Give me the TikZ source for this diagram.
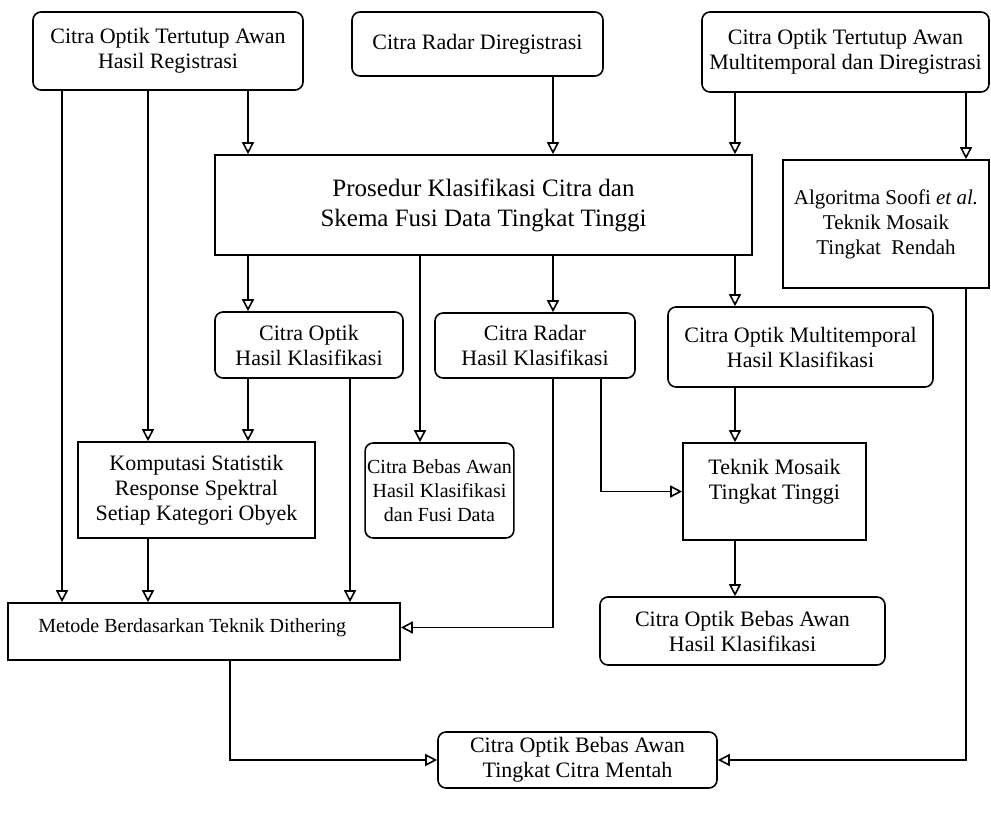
\documentclass[tikz,border=0pt]{standalone}
\usepackage{fontspec}
\setmainfont{Liberation Serif}
\usepackage{tikz}
\usetikzlibrary{shapes,arrows.meta,positioning,calc}

\begin{document}
\begin{tikzpicture}[
    x=0.5pt, y=-0.5pt,
    roundbox/.style={
        rectangle,
        draw,
        rounded corners=4pt,
        align=center,
        line width=0.8pt,
        inner sep=1pt,
        font=\fontsize{11}{12.5}\selectfont
    },
    sharpbox/.style={
        roundbox,
        sharp corners
    },
    line/.style={
        draw,
        line width=0.8pt,
        -{Triangle[open,length=6pt,width=6pt]}
    }
]
\useasboundingbox (0,0) rectangle (991,823);

% Nodes
\node [roundbox, minimum width=135pt, minimum height=39pt] (regopt) at (168,51) {Citra Optik Tertutup Awan\\Hasil Registrasi};
\node [roundbox, minimum width=125.5pt, minimum height=32pt] (radar) at (477.5,44) {Citra Radar Diregistrasi};
\node [roundbox, minimum width=143.5pt, minimum height=40pt] (multi) at (845.5,52) {Citra Optik Tertutup Awan\\Multitemporal dan Diregistrasi};

\node [sharpbox, minimum width=268.5pt, minimum height=50pt, font=\fontsize{12.5}{15}\selectfont] (proc) at (483.5,205) {Prosedur Klasifikasi Citra dan\\Skema Fusi Data Tingkat Tinggi};
\node [sharpbox, minimum width=103pt, minimum height=64pt, font=\fontsize{10.5}{12.5}\selectfont] (soofi) at (886,224) {Algoritma Soofi \textit{et al.}\\Teknik Mosaik\\Tingkat\ \ Rendah};

\node [roundbox, minimum width=94pt, minimum height=33pt] (optcls) at (309,345) {Citra Optik\\Hasil Klasifikasi};
\node [roundbox, minimum width=100pt, minimum height=32.5pt] (radcls) at (535,345.5) {Citra Radar\\Hasil Klasifikasi};
\node [roundbox, minimum width=132.5pt, minimum height=40pt] (multcls) at (800.5,347) {Citra Optik Multitemporal\\Hasil Klasifikasi};

\node [sharpbox, minimum width=118.5pt, minimum height=48pt] (stat) at (196.5,490) {Komputasi Statistik\\Response Spektral\\Setiap Kategori Obyek};
\node [roundbox, minimum width=72.5pt, minimum height=47.5pt, font=\fontsize{10}{12}\selectfont] (fusi) at (439.5,490.5) {Citra Bebas Awan\\Hasil Klasifikasi\\dan Fusi Data};
\node [sharpbox, minimum width=91.5pt, minimum height=48.5pt,
    label={[anchor=north, yshift=-5pt, align=center, font=\fontsize{11}{12.5}\selectfont]north:{Teknik Mosaik\\Tingkat Tinggi}}] (mosaic) at (774.5,491.5) {};

\node [sharpbox, minimum width=196pt, minimum height=28.5pt,
    label={[anchor=west, xshift=12pt, yshift=2pt, font=\fontsize{10}{12}\selectfont]west:{Metode Berdasarkan Teknik Dithering}}] (dither) at (204,631.5) {};
\node [roundbox, minimum width=142.5pt, minimum height=34pt] (clear) at (742.5,631) {Citra Optik Bebas Awan\\Hasil Klasifikasi};
\node [roundbox, minimum width=139.5pt, minimum height=28pt] (raw) at (577.5,760) {Citra Optik Bebas Awan\\Tingkat Citra Mentah};

% Columns of the vertical connectors
\foreach \n/\x in {ca/62, cb/148, cc/230, cd/248, ce/350, cf/420, cg/553, ch/601, ci/735, cj/966}
    \coordinate (\n) at (\x,0);

% Paths
\path [line] (regopt.south -| ca) -- (dither.north -| ca);
\path [line] (regopt.south -| cb) -- (stat.north -| cb);
\path [line] (regopt.south -| cd) -- (proc.north -| cd);
\path [line] (radar.south -| cg) -- (proc.north -| cg);
\path [line] (multi.south -| ci) -- (proc.north -| ci);
\path [line] (multi.south -| cj) -- (soofi.north -| cj);

\path [line] (proc.south -| cd) -- (optcls.north -| cd);
\path [line] (proc.south -| cf) -- (fusi.north -| cf);
\path [line] (proc.south -| cg) -- (radcls.north -| cg);
\path [line] (proc.south -| ci) -- (multcls.north -| ci);

\path [line] (optcls.south -| cd) -- (stat.north -| cd);
\path [line] (optcls.south -| ce) -- (dither.north -| ce);
\draw [line] (radcls.south -| cg) |- ([yshift=2pt]dither.east);
\draw [line] (radcls.south -| ch) |- (mosaic.west);
\path [line] (multcls.south -| ci) -- (mosaic.north -| ci);

\path [line] (stat.south -| cb) -- (dither.north -| cb);
\path [line] (mosaic.south -| ci) -- (clear.north -| ci);

\draw [line] (dither.south -| cc) |- (raw.west);
\draw [line] (soofi.south -| cj) |- (raw.east);

\end{tikzpicture}
\end{document}
